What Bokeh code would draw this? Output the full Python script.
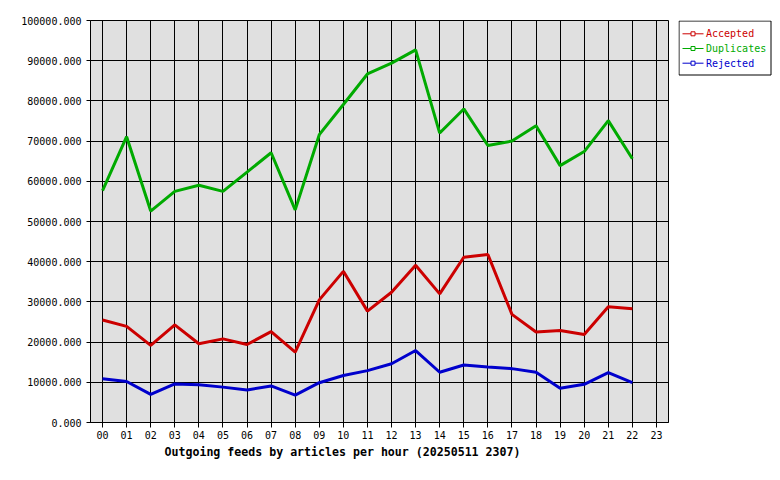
from bokeh.plotting import figure
from bokeh.layouts import row
from bokeh.models import (FixedTicker, PrintfTickFormatter, Title, Range1d)
from bokeh.core.properties import value
from bokeh.embed import file_html
from bokeh.resources import INLINE

hours = list(range(23))
hour_labels = ["%02d" % h for h in range(24)]
accepted = [25500, 23900, 19200, 24300, 19600, 20800, 19400, 22600, 17500, 30500,
            37600, 27700, 32400, 39100, 32000, 41100, 41800, 26900, 22500, 22900,
            21900, 28800, 28300]
duplicates = [57700, 71100, 52600, 57500, 59000, 57500, 62300, 67100, 52900, 71600,
              79100, 86700, 89400, 92700, 72000, 78000, 68900, 70000, 73800, 63900,
              67400, 75100, 65600]
rejected = [10900, 10200, 7000, 9600, 9400, 8800, 8100, 9100, 6800, 9900,
            11700, 12900, 14600, 17900, 12500, 14300, 13800, 13400, 12500, 8500,
            9500, 12400, 9900]
series_names = ["Accepted", "Duplicates", "Rejected"]
series_colors = ["#cc0000", "#00aa00", "#0000cc"]
y_ticks = list(range(0, 100001, 10000))
title_text = "Outgoing feeds by articles per hour (20250511 2307)"

MONO = "DejaVu Sans Mono"
H = 472
TOP, BOTTOM = 20, 50

p = figure(width=678, height=H, output_backend="svg", toolbar_location=None,
           x_range=Range1d(-0.5, 23.5), y_range=Range1d(0, 100000),
           min_border_left=90, min_border_right=10, min_border_top=TOP,
           min_border_bottom=BOTTOM)
p.background_fill_color = "#e0e0e0"
p.border_fill_color = "white"
p.outline_line_color = "black"
p.outline_line_width = 1

p.xaxis.ticker = FixedTicker(ticks=list(range(24)))
p.xaxis.major_label_overrides = {i: lbl for i, lbl in enumerate(hour_labels)}
p.yaxis.ticker = FixedTicker(ticks=y_ticks)
p.yaxis.formatter = PrintfTickFormatter(format="%.3f")

for ax in (p.xaxis, p.yaxis):
    ax.axis_line_color = "black"
    ax.major_tick_line_color = "black"
    ax.major_tick_in = 0
    ax.minor_tick_line_color = None
    ax.major_label_text_font = MONO
    ax.major_label_text_font_size = "10px"
    ax.major_label_text_color = "black"
p.xaxis.major_tick_out = 5
p.xaxis.major_label_standoff = 3
p.yaxis.major_tick_out = 4
p.yaxis.major_label_standoff = 5

for g in (p.xgrid, p.ygrid):
    g.grid_line_color = "black"
    g.grid_line_width = 1
    g.grid_line_alpha = 1

series = [accepted, duplicates, rejected]
for name, color, vals in zip(series_names, series_colors, series):
    p.line(hours, vals, line_color=color, line_width=3)

t = Title(text=title_text, align="left", offset=74, text_font=MONO,
          text_font_size="11.6px", text_font_style="bold", text_color="black",
          standoff=2)
p.add_layout(t, "below")

# Legend panel: frame aligned with the main frame, y in page pixels (downward)
lg = figure(width=94, height=H, output_backend="svg", toolbar_location=None,
            title=None, x_range=Range1d(0, 94), y_range=Range1d(H - BOTTOM, TOP),
            min_border_left=0, min_border_right=0, min_border_top=TOP,
            min_border_bottom=BOTTOM, x_axis_type=None, y_axis_type=None)
lg.grid.visible = False
lg.outline_line_color = None
lg.background_fill_color = "white"
lg.border_fill_color = "white"

n = len(series_names)
row_y = [33.3 + i * 14.7 for i in range(n)]
lg.quad(left=[0.5], right=[92.5], top=[20.5], bottom=[74.5],
        fill_color="white", line_color="black", line_width=1)
lg.segment(x0=[4] * n, x1=[25] * n, y0=row_y, y1=row_y,
           line_color=series_colors, line_width=1)
lg.scatter(x=[14.5] * n, y=row_y, marker="square", size=4,
           line_color=series_colors, fill_color="white", line_width=1)
lg.text(x=[27.5] * n, y=row_y, text=series_names, text_color=series_colors,
        text_font=value(MONO), text_font_size="10px", text_baseline="middle")

layout = row(p, lg)
open("out.html", "w").write(file_html(layout, INLINE))
